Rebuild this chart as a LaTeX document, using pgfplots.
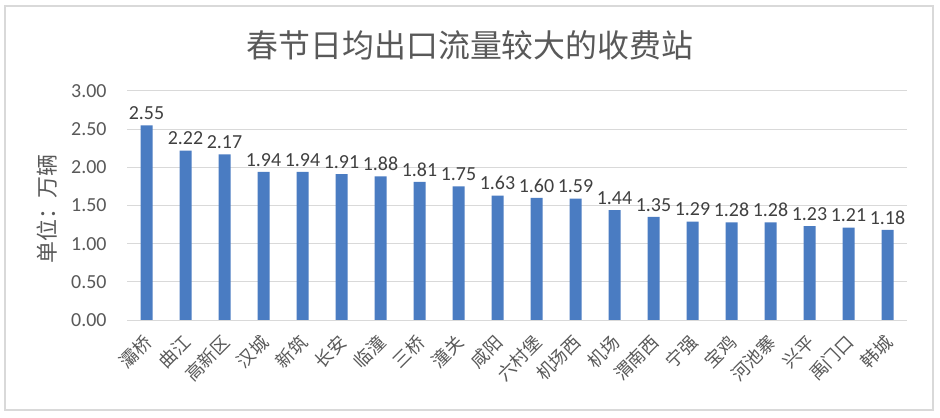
\documentclass[border=0pt]{standalone}
\usepackage{fontspec}
\setmainfont{Carlito}
\newfontfamily\cjk{Noto Sans CJK SC}
\usepackage{pgfplots}
\pgfplotsset{compat=1.18}
\definecolor{barblue}{HTML}{4A7CC2}
\definecolor{gridgray}{HTML}{D9D9D9}
\definecolor{ticktext}{HTML}{595959}
\definecolor{labtext}{HTML}{404040}
\begin{document}
\begin{tikzpicture}[x=1bp,y=1bp]
\useasboundingbox (0,0) rectangle (940,417);
\fill[white] (0,0) rectangle (940,417);
\draw[gridgray, line width=1.2bp] (5,7) rectangle (933,411);
\begin{axis}[
  at={(127bp,97bp)}, anchor=south west,
  scale only axis, width=780bp, height=229bp,
  xmin=-0.5, xmax=19.5, ymin=0, ymax=3,
  ytick={0,0.5,1,1.5,2,2.5,3},
  yticklabel style={font=\fontsize{20}{22}\selectfont, text=ticktext, xshift=-17bp, /pgf/number format/.cd, fixed, fixed zerofill, precision=2, assume math mode=true},
  xtick=data,
  xticklabels={灞桥,曲江,高新区,汉城,新筑,长安,临潼,三桥,潼关,咸阳,六村堡,机场西,机场,渭南西,宁强,宝鸡,河池寨,兴平,禹门口,韩城},
  xticklabel style={font=\cjk\fontsize{18}{20}\selectfont, text=ticktext, xshift=-4bp, yshift=-13bp, rotate=45, anchor=north east, inner sep=0pt},
  major tick length=0pt,
  axis line style={draw=none},
  axis x line*=bottom,
  ymajorgrids, grid style={gridgray, line width=1bp},
  ybar, bar width=12bp,
  nodes near coords,
  nodes near coords style={font=\fontsize{20}{22}\selectfont, text=labtext, anchor=south, yshift=2bp, /pgf/number format/.cd, fixed, fixed zerofill, precision=2, assume math mode=true},
  clip=false,
]
\addplot[fill=barblue, draw=none] coordinates {
(0,2.55) (1,2.22) (2,2.17) (3,1.94) (4,1.94) (5,1.91) (6,1.88) (7,1.81) (8,1.75) (9,1.63)
(10,1.60) (11,1.59) (12,1.44) (13,1.35) (14,1.29) (15,1.28) (16,1.28) (17,1.23) (18,1.21) (19,1.18)};
\draw[gridgray, line width=1bp] (rel axis cs:0,0) -- (rel axis cs:1,0);
\end{axis}
\node[font=\cjk\fontsize{32}{36}\selectfont, text=ticktext] at (470,372) {春节日均出口流量较大的收费站};
\node[font=\cjk\fontsize{22}{24}\selectfont, text=ticktext, rotate=90] at (47,208) {单位：万辆};
\end{tikzpicture}
\end{document}
